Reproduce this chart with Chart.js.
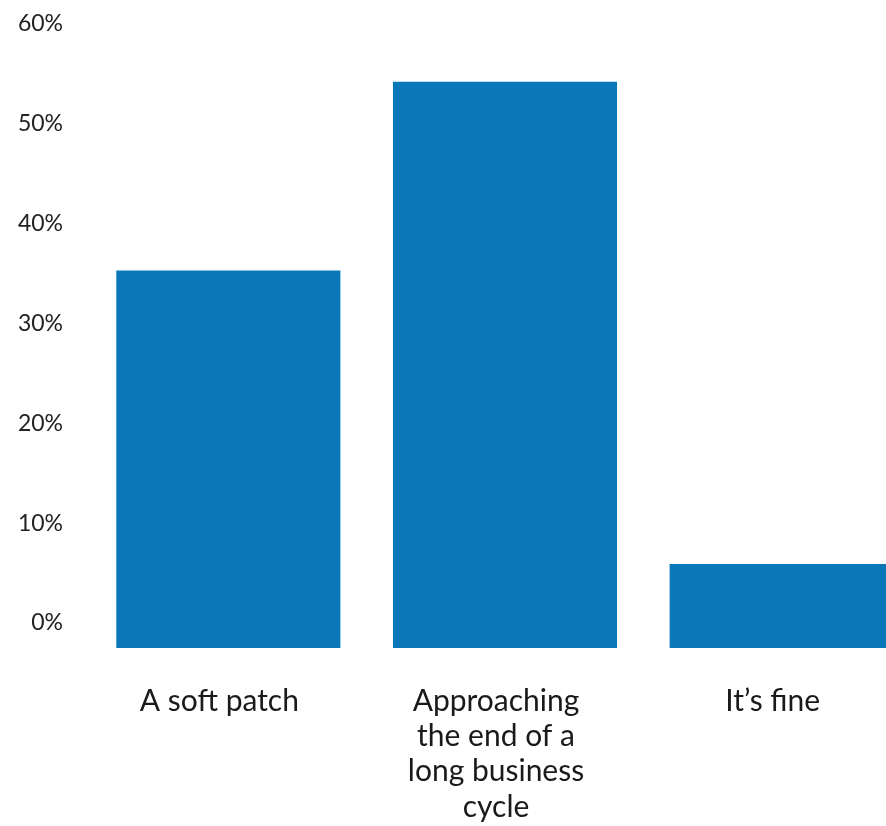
<!DOCTYPE html>
<html>
<head>
<meta charset="utf-8">
<script src="https://cdn.jsdelivr.net/npm/chart.js@4"></script>
<style>
  html, body { margin: 0; padding: 0; background: #fff; overflow: hidden; }
  #wrap { width: 920px; height: 826px; overflow: hidden; }
  #myChart { display: block; margin-top: -27px; }
</style>
</head>
<body>
<div id="wrap"><canvas id="myChart" width="920" height="853"></canvas></div>
<script>
const categories = ['A soft patch', ['Approaching', 'the end of a', 'long business', 'cycle'], 'It\u2019s fine'];
const shares = [35.3, 54.2, 5.9];
const tickValues = [0, 10, 20, 30, 40, 50, 60];

function initChart(target) {
  const data = {
    labels: categories,
    datasets: [{
      label: 'Share',
      data: shares,
      backgroundColor: '#0a78b8',
      borderWidth: 0,
      base: -2.5,
      categoryPercentage: 0.81,
      barPercentage: 1
    }]
  };

  const config = {
    type: 'bar',
    data: data,
    options: {
      responsive: false,
      animation: false,
      plugins: { legend: { display: false }, tooltip: { enabled: false } },
      scales: {
        x: {
          grid: { display: false, drawTicks: false },
          border: { display: false },
          ticks: {
            color: '#1a1a1a',
            padding: 36,
            labelOffset: -9,
            maxRotation: 0,
            autoSkip: false,
            font: { family: 'Lato', size: 30, lineHeight: 1.17 },
          },
          afterFit: (axis) => { axis.height = 178; }
        },
        y: {
          min: -2.5,
          max: 61,
          grid: { display: false, drawTicks: false },
          border: { display: false },
          afterBuildTicks: (axis) => { axis.ticks = tickValues.map((v) => ({ value: v })); },
          afterFit: (axis) => { axis.width = 90; },
          ticks: {
            color: '#222222',
            padding: 27,
            font: { family: 'Lato', size: 23 },
            callback: (v) => v + '%'
          }
        }
      }
    }
  };

  return new Chart(target, config);
}

document.addEventListener('DOMContentLoaded', () => initChart(document.querySelector('#myChart')));
</script>
</body>
</html>
